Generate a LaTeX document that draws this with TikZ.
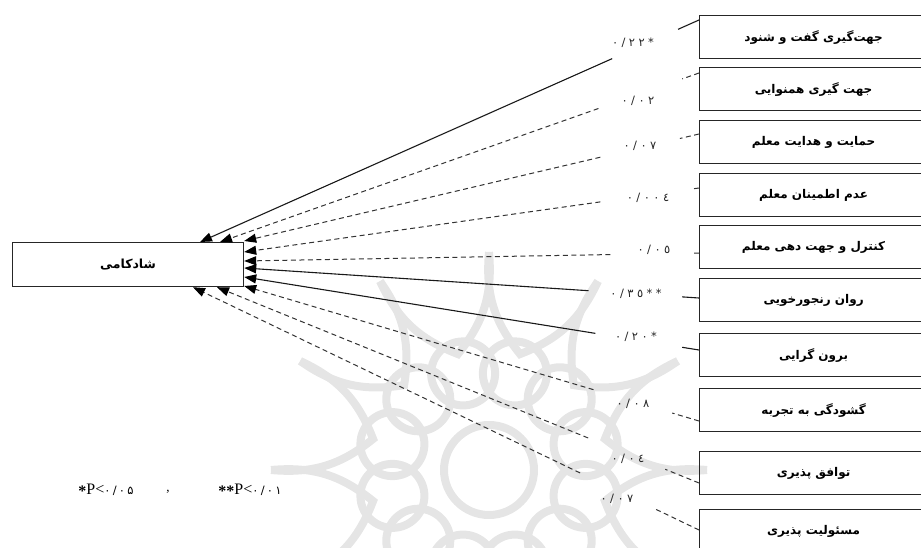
\documentclass[tikz,border=0pt]{standalone}
\usepackage{fontspec}
\setmainfont{Liberation Serif}
\newfontfamily\fafont[Script=Arabic]{DejaVu Sans}
\newfontfamily\numfont[LetterSpace=30]{DejaVu Sans}
\newfontfamily\dejafont[LetterSpace=20]{DejaVu Sans}
\TeXXeTstate=1
\usetikzlibrary{arrows.meta,calc}
\tikzset{
  rbox/.style={draw=black!85, line width=1.2pt, minimum width=228pt, minimum height=43pt,
    inner sep=0pt, anchor=north west, font=\fafont\bfseries\fontsize{12}{14}\selectfont},
  lbox/.style={draw=black!85, line width=1.2pt, minimum width=231pt, minimum height=44pt,
    inner sep=0pt, anchor=north west, font=\fafont\bfseries\fontsize{12.5}{14}\selectfont},
  solidc/.style={draw=black!90, line width=1.1pt},
  dashc/.style={draw=black!80, line width=1pt, dash pattern=on 5pt off 3.5pt},
  tip/.style={-{Triangle[length=12pt,width=9pt,color=black]}},
  coef/.style={font=\numfont\fontsize{11.5}{13}\selectfont, text=black!85, inner sep=1pt},
  wm/.style={draw=black!10, line width=8pt},
}
\begin{document}
\begin{tikzpicture}[x=1pt,y=-1pt]
\useasboundingbox (0,0) rectangle (921,548);
\clip (0,0) rectangle (921,548);
% faint watermark (rosette)
\coordinate (wc) at (489,470);
\foreach \a in {0,30,...,330} {
  \draw[wm] ($(wc)+(\a:218)$) to[bend right=22] ($(wc)+(\a+15:120)$)
                              to[bend right=22] ($(wc)+(\a+30:218)$);
  \draw[wm] ($(wc)+(\a+15:100)$) circle (32);
}
\draw[wm] (wc) circle (45);
% left box
\node[lbox] (L) at (12,242) {\beginR شادکامی\endR};
% right boxes
\node[rbox] (r1) at (699,15)  {\beginR جهت‌گیری گفت و شنود\endR};
\node[rbox] (r2) at (699,67)  {\beginR جهت گیری همنوایی\endR};
\node[rbox] (r3) at (699,120) {\beginR حمایت و هدایت معلم\endR};
\node[rbox] (r4) at (699,173) {\beginR عدم اطمینان معلم\endR};
\node[rbox] (r5) at (699,225) {\beginR کنترل و جهت دهی معلم\endR};
\node[rbox] (r6) at (699,278) {\beginR روان رنجورخویی\endR};
\node[rbox] (r7) at (699,333) {\beginR برون گرایی\endR};
\node[rbox] (r8) at (699,388) {\beginR گشودگی به تجربه\endR};
\node[rbox] (r9) at (699,451) {\beginR توافق پذیری\endR};
\node[rbox] (r10) at (699,509) {\beginR مسئولیت پذیری\endR};
% start points on the right boxes
\coordinate (s1) at ($(r1.north west)+(0,5)$);
\coordinate (s2) at ($(r2.north west)+(0,6)$);
\coordinate (s3) at ($(r3.north west)+(0,14)$);
\coordinate (s4) at ($(r4.north west)+(0,15)$);
\coordinate (s5) at ($(r5.north west)+(0,28)$);
\coordinate (s6) at ($(r6.north west)+(0,20)$);
\coordinate (s7) at ($(r7.north west)+(0,17)$);
\coordinate (s8) at ($(r8.north west)+(0,33)$);
\coordinate (s9) at ($(r9.north west)+(0,32)$);
\coordinate (s10) at ($(r10.north west)+(0,21)$);
% end points on the left box
\coordinate (e1) at ($(L.north west)+(188,0)$);
\coordinate (e2) at ($(L.north west)+(208,0)$);
\coordinate (e3) at ($(L.north east)+(0,-1)$);
\coordinate (e4) at ($(L.north east)+(0,10)$);
\coordinate (e5) at ($(L.north east)+(0,19)$);
\coordinate (e6) at ($(L.north east)+(0,26)$);
\coordinate (e7) at ($(L.north east)+(0,35)$);
\coordinate (e8) at ($(L.north east)+(0,44)$);
\coordinate (e9) at ($(L.south west)+(205,0)$);
\coordinate (e10) at ($(L.south west)+(181,0)$);
% connectors: short piece at the box, gap for coefficient, long piece with arrow
\foreach \i/\st/\f/\g in {1/solidc/0.042/0.174, 2/dashc/0.035/0.21, 3/dashc/0.042/0.217,
    4/dashc/0.013/0.217, 5/dashc/0.013/0.195, 6/solidc/0.037/0.243, 7/solidc/0.037/0.228,
    8/dashc/0.059/0.232, 9/dashc/0.07/0.23, 10/dashc/0.087/0.235} {
  \draw[\st] (s\i) -- ($(s\i)!\f!(e\i)$);
  \draw[\st,tip] ($(s\i)!\g!(e\i)$) -- (e\i);
}
% coefficients
\node[coef] (c1) at (633,43) {٠/٢٢*};
\node[coef] (c2) at (638,101) {٠/٠٢};
\node[coef] (c3) at (640,146) {٠/٠٧};
\node[coef] (c4) at (648,198) {٠/٠٠٤};
\node[coef] (c5) at (654,250) {٠/٠٥};
\node[coef] (c6) at (636,294) {٠/٣٥**};
\node[coef] (c7) at (636,337) {٠/٢٠*};
\node[coef] (c8) at (633,404) {٠/٠٨};
\node[coef] (c9) at (628,459) {٠/٠٤};
\node[coef] (c10) at (617,499) {٠/٠٧};
% note
\node[inner sep=0pt, font=\fontsize{16}{18}\selectfont] (n1) at (106,490)
  {\raisebox{-0.25ex}{\textbf{*}}P<{\dejafont\fontsize{11.5}{13}\selectfont ۰/۰۵}};
\node[inner sep=0pt, font=\fontsize{13}{15}\selectfont] (n2) at (168,492) {,};
\node[inner sep=0pt, font=\fontsize{16}{18}\selectfont] (n3) at (250,490)
  {\raisebox{-0.25ex}{\textbf{**}}P<{\dejafont\fontsize{11.5}{13}\selectfont ۰/۰۱}};
\end{tikzpicture}
\end{document}
